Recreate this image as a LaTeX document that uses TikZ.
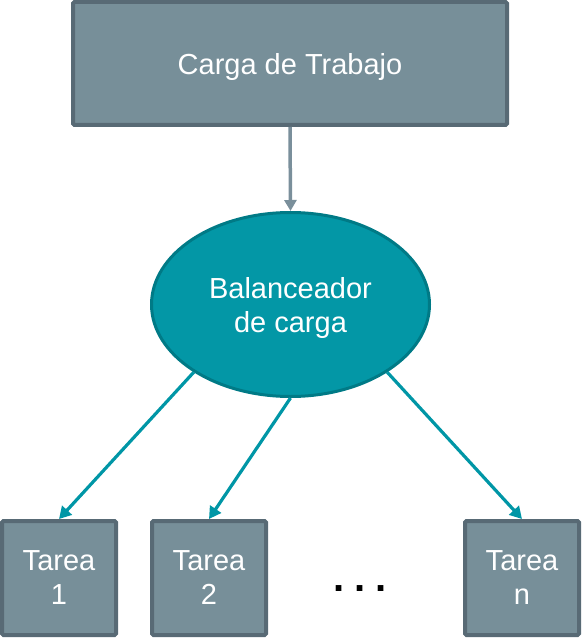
\documentclass[tikz,border=0pt]{standalone}
\usepackage{fontspec}
\setmainfont{Liberation Sans}
\usepackage{tikz}
\usetikzlibrary{shapes.geometric, arrows.meta}

\definecolor{boxfill}{RGB}{119,143,153}
\definecolor{boxline}{RGB}{88,106,117}
\definecolor{balfill}{RGB}{3,151,166}
\definecolor{balline}{RGB}{0,122,134}
\definecolor{tealarrow}{RGB}{0,150,166}
\definecolor{grayarrow}{RGB}{122,143,155}

\begin{document}
\begin{tikzpicture}[x=1pt, y=-1pt,
    txt/.style={text=white, font=\fontsize{29}{34}\selectfont, align=center, inner sep=0pt, text depth=0pt},
    workbox/.style={txt, draw=boxline, fill=boxfill, line width=4pt, rounded corners=1.5pt},
    balancer/.style={txt, ellipse, draw=balline, fill=balfill, line width=3pt},
    tealline/.style={draw=tealarrow, line width=3.2pt, -{Triangle[length=12pt, width=13pt]}},
    grayline/.style={draw=grayarrow, line width=3.5pt, -{Triangle[length=11pt, width=12pt]}}]
                \useasboundingbox (0,0) rectangle (586,639);

                % Draw workload and balancer
                \node[workbox, minimum width=434pt, minimum height=123pt] (carga) at (290, 63.5) {Carga de Trabajo};
                \node[balancer, minimum width=278pt, minimum height=184pt] (bal) at (290.5, 304.5) {Balanceador\\de carga};

                % Draw tasks
                \foreach \name/\x/\lbl in {t1/59/1, t2/209/2, tn/522/n}
                    \node[workbox, minimum width=114pt, minimum height=114pt] (\name) at (\x, 578) {Tarea\\\lbl};
                \node[font=\bfseries\fontsize{40}{44}\selectfont, inner sep=0pt, anchor=base] (dots) at (360, 591) {.\hspace{10pt}.\hspace{10pt}.};

                % Draw arrows
                \draw[grayline] (carga.south) -- (bal.north);
                \draw[tealline] (bal.-145) -- (t1.north);
                \draw[tealline] (bal.south) -- (t2.north);
                \draw[tealline] (bal.-35) -- (tn.north);
            \end{tikzpicture}
\end{document}
